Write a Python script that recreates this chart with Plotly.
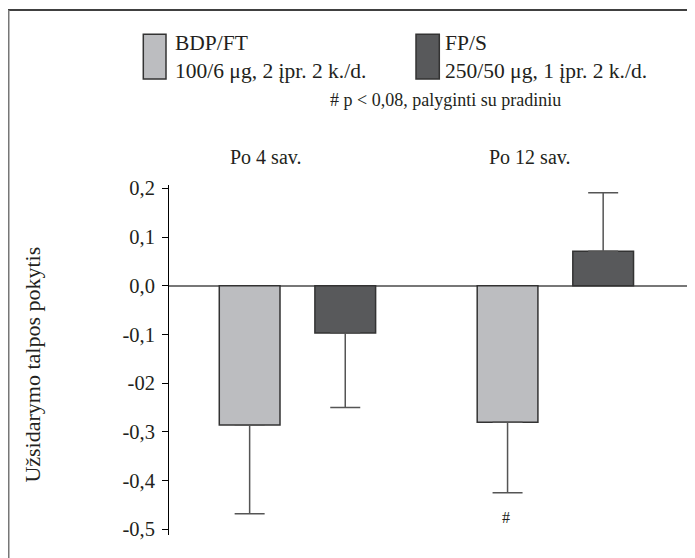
import plotly.graph_objects as go

# ---- data ----
categories = ["Po 4 sav.", "Po 12 sav."]
series_names = ["BDP/FT", "FP/S"]
series_doses = ["100/6 μg, 2 įpr. 2 k./d.", "250/50 μg, 1 įpr. 2 k./d."]
bdp_ft_values = [-0.286, -0.280]
bdp_ft_errors = [0.182, 0.145]
fp_s_values = [-0.097, 0.071]
fp_s_errors = [0.153, 0.120]
tick_values = [0.2, 0.1, 0.0, -0.1, -0.2, -0.3, -0.4, -0.5]
tick_labels = ["0,2", "0,1", "0,0", "-0,1", "-02", "-0,3", "-0,4", "-0,5"]
y_title = "Užsidarymo talpos pokytis"
note_text = "# p < 0,08, palyginti su pradiniu"
mark_text = "#"

FONT = "Liberation Serif"
TXT = "#231f20"
colors = ["#bcbdc0", "#58595b"]


def one_sided(values, errors):
    plus = [e if v > 0 else 0 for v, e in zip(values, errors)]
    minus = [e if v < 0 else 0 for v, e in zip(values, errors)]
    return plus, minus


fig = go.Figure()
for name, vals, errs, col in [
    (series_names[0], bdp_ft_values, bdp_ft_errors, colors[0]),
    (series_names[1], fp_s_values, fp_s_errors, colors[1]),
]:
    plus, minus = one_sided(vals, errs)
    fig.add_trace(go.Bar(
        x=categories, y=vals, name=name,
        marker=dict(color=col, line=dict(color="#333333", width=1.5)),
        error_y=dict(type="data", symmetric=False, array=plus, arrayminus=minus,
                     color="#555555", thickness=1.5, width=15),
        showlegend=False,
    ))

# page body has an 8px margin, so the figure is laid out 8px in from the corner
OFF = 8
W, H = 695 - OFF, 558 - OFF
L, R, T, B = 169 - OFF, 5, 185 - OFF, 23
pw, ph = W - L - R, H - T - B


def px(x):
    return (x - OFF - L) / pw


def py(y):
    return (H - B - (y - OFF)) / ph


fig.update_layout(
    width=W, height=H,
    margin=dict(l=L, r=R, t=T, b=B),
    plot_bgcolor="white", paper_bgcolor="white",
    barmode="group", bargap=0.2586, bargroupgap=0.365,
    font=dict(family=FONT, size=20, color=TXT),
    xaxis=dict(range=[-0.498, 1.522], showticklabels=False, showline=False,
               ticks="", showgrid=False, zeroline=False),
    yaxis=dict(range=[-0.5117, 0.2068], tickvals=tick_values, ticktext=tick_labels,
               ticks="outside", ticklen=6, tickwidth=1, tickcolor="#000000",
               showline=True, linecolor="#000000", linewidth=1,
               showgrid=False, zeroline=True, zerolinecolor="#777777",
               zerolinewidth=1.5, ticklabelstandoff=3,
               tickfont=dict(family=FONT, size=20.5, color=TXT)),
)

shapes = []
# frame lines (top and left)
shapes.append(dict(type="line", xref="paper", yref="paper", x0=px(8), x1=px(700),
                   y0=py(10), y1=py(10), line=dict(color="#000000", width=1.5)))
shapes.append(dict(type="line", xref="paper", yref="paper", x0=px(8.5), x1=px(8.5),
                   y0=py(10), y1=py(560), line=dict(color="#777777", width=2)))
# legend swatches
for (x0, x1), col in zip([(143.3, 166), (416, 439.3)], colors):
    shapes.append(dict(type="rect", xref="paper", yref="paper", x0=px(x0), x1=px(x1),
                       y0=py(79), y1=py(34.3), fillcolor=col,
                       line=dict(color="#333333", width=1.5)))
fig.update_layout(shapes=shapes)

annotations = []
for xl, name, dose in zip([173, 443], series_names, series_doses):
    annotations.append(dict(xref="paper", yref="paper", x=px(xl), y=py(57),
                            xanchor="left", yanchor="middle", align="left",
                            showarrow=False, text=f"{name}<br>{dose}",
                            font=dict(family=FONT, size=21.5, color=TXT)))
annotations.append(dict(xref="paper", yref="paper", x=px(445), y=py(100),
                        xanchor="center", yanchor="middle", showarrow=False,
                        text=note_text, font=dict(family=FONT, size=18, color=TXT)))
for xc, cat in zip([265, 529.5], categories):
    annotations.append(dict(xref="paper", yref="paper", x=px(xc), y=py(157),
                            xanchor="center", yanchor="middle", showarrow=False,
                            text=cat, font=dict(family=FONT, size=20, color=TXT)))
annotations.append(dict(xref="paper", yref="paper", x=px(33), y=py(364.6),
                        xanchor="center", yanchor="middle", showarrow=False,
                        textangle=-90, text=y_title,
                        font=dict(family=FONT, size=22, color=TXT)))
annotations.append(dict(xref="paper", yref="paper", x=px(506), y=py(517),
                        xanchor="center", yanchor="middle", showarrow=False,
                        text=mark_text, font=dict(family=FONT, size=16, color=TXT)))
fig.update_layout(annotations=annotations)

fig.write_html("out.html")
